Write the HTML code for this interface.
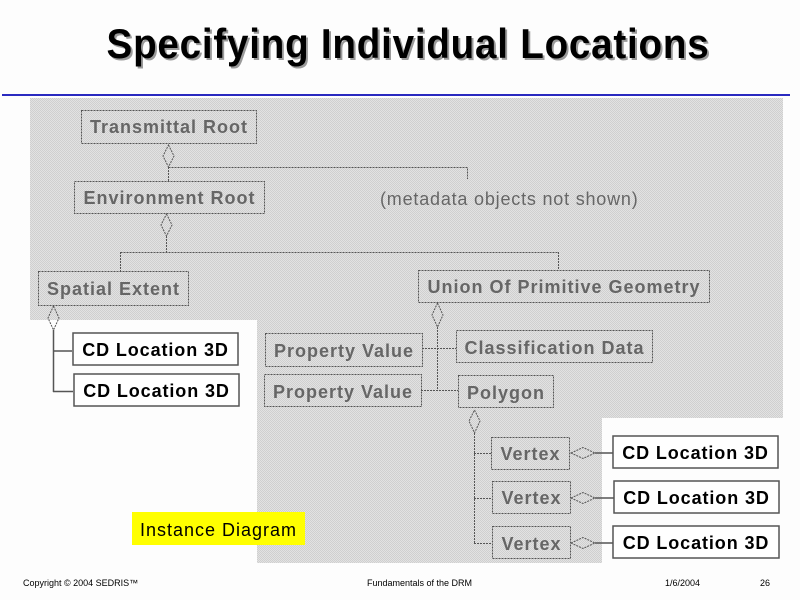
<!DOCTYPE html>
<html><head><meta charset="utf-8">
<style>
html,body{margin:0;padding:0;background:#fdfdfd;}
svg{display:block;}
</style></head><body>
<svg width="800" height="600" xmlns="http://www.w3.org/2000/svg" font-family="Liberation Sans, Arial, sans-serif">
<defs>
<pattern id="dots" width="2" height="2" patternUnits="userSpaceOnUse">
<rect width="2" height="2" fill="#e2e2e2"/><rect width="1" height="1" fill="#cfcfcf"/><rect x="1" y="1" width="1" height="1" fill="#cfcfcf"/>
</pattern>
</defs>
<rect width="800" height="600" fill="#fdfdfd"/>
<!-- Title -->
<g transform="translate(408,58) scale(0.965,1.05)">
<text x="2" y="2" text-anchor="middle" font-size="40" font-weight="bold" fill="#9a9a9a" letter-spacing="0.8">Specifying Individual Locations</text>
<text x="0" y="0" text-anchor="middle" font-size="40" font-weight="bold" fill="#000" letter-spacing="0.8">Specifying Individual Locations</text>
</g>
<rect x="2" y="94" width="788" height="2" fill="#2a2ac0"/>
<!-- gray region -->
<path d="M30 98 H783 V418 H602 V563 H257 V320 H30 Z" fill="url(#dots)"/>
<g fill="none" stroke="#555" stroke-width="1" stroke-dasharray="2,1">
<rect x="81.5" y="110.5" width="175" height="33"/>
<rect x="74.5" y="181.5" width="190" height="32"/>
<rect x="38.5" y="271.5" width="150" height="34"/>
<rect x="418.5" y="270.5" width="291" height="32"/>
<rect x="265.5" y="333.5" width="157" height="33"/>
<rect x="264.5" y="374.5" width="157" height="32"/>
<rect x="456.5" y="330.5" width="196" height="32"/>
<rect x="458.5" y="375.5" width="95" height="32"/>
<rect x="491.5" y="437.5" width="78" height="32"/>
<rect x="492.5" y="481.5" width="78" height="32"/>
<rect x="492.5" y="526.5" width="78" height="32"/>
<!-- diamonds -->
<path d="M168.5 145 L174 156 L168.5 167 L163 156 Z"/>
<path d="M166.5 214 L172 225 L166.5 236 L161 225 Z"/>
<path d="M53.5 306 L59 318 L53.5 330 L48 318 Z"/>
<path d="M437.5 303 L443 315 L437.5 327 L432 315 Z"/>
<path d="M474.5 410 L480 421 L474.5 433 L469 421 Z"/>
<path d="M571 453 L583 447.5 L595 453 L583 458.5 Z"/>
<path d="M571 498 L583 492.5 L595 498 L583 503.5 Z"/>
<path d="M571 543 L583 537.5 L595 543 L583 548.5 Z"/>
<!-- lines -->
<path d="M168.5 167 V181 M168.5 167.5 H467.5 V179"/>
<path d="M166.5 236 V252.5 M120.5 252.5 H558.5 M120.5 252 V271 M558.5 252 V270"/>
<path d="M437.5 327 V390.5 M422 348.5 H456 M421 390.5 H458"/>
<path d="M474.5 433 V543.5 M474 453.5 H491 M474 498.5 H492 M474 543.5 H492"/>
</g>
<g fill="none" stroke="#555" stroke-width="1.5">
<path d="M53.5 330 V392 M53 351 H72 M53 391.5 H73"/>
<path d="M595 453 H613 M595 498 H614 M595 543 H613"/>
</g>
<g fill="#fff" stroke="#555" stroke-width="1.5">
<rect x="73" y="333" width="165" height="32"/>
<rect x="74" y="374" width="165" height="32"/>
<rect x="613" y="436" width="165" height="32"/>
<rect x="614" y="481" width="165" height="32"/>
<rect x="613" y="526" width="166" height="32"/>
</g>
<g font-size="18" font-weight="bold" fill="#666" text-anchor="middle" letter-spacing="1">
<text x="169" y="133">Transmittal Root</text>
<text x="169.5" y="204">Environment Root</text>
<text x="113.5" y="295">Spatial Extent</text>
<text x="564" y="293">Union Of Primitive Geometry</text>
<text x="344" y="357">Property Value</text>
<text x="343" y="398">Property Value</text>
<text x="554.5" y="354">Classification Data</text>
<text x="506" y="399">Polygon</text>
<text x="530.5" y="460">Vertex</text>
<text x="531.5" y="504">Vertex</text>
<text x="531.5" y="550">Vertex</text>
</g>
<text x="380" y="205" font-size="18" fill="#666" letter-spacing="0.8">(metadata objects not shown)</text>
<g font-size="18" font-weight="bold" fill="#000" text-anchor="middle" letter-spacing="0.9">
<text x="155.5" y="356">CD Location 3D</text>
<text x="156.5" y="397">CD Location 3D</text>
<text x="695.5" y="459">CD Location 3D</text>
<text x="696.5" y="504">CD Location 3D</text>
<text x="696" y="549">CD Location 3D</text>
</g>
<rect x="132" y="512" width="173" height="33" fill="#ffff00"/>
<text x="218.5" y="536" font-size="18" fill="#000" text-anchor="middle" letter-spacing="1">Instance Diagram</text>
<g font-size="9" fill="#000">
<text x="23" y="586">Copyright © 2004 SEDRIS™</text>
<text x="367" y="586">Fundamentals of the DRM</text>
<text x="665" y="586">1/6/2004</text>
<text x="760" y="586">26</text>
</g>
</svg>
</body></html>
